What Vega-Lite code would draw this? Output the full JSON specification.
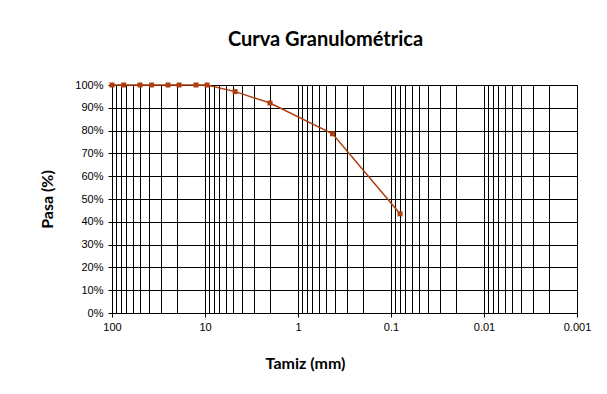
{
  "$schema": "https://vega.github.io/schema/vega-lite/v6.json",
  "autosize": "none",
  "width": 465,
  "height": 228,
  "padding": {"left": 112, "top": 85, "right": 30, "bottom": 81},
  "background": "white",
  "title": {
    "text": "Curva Granulométrica",
    "font": "Lato",
    "fontSize": 20,
    "fontWeight": "bold",
    "color": "black",
    "anchor": "middle",
    "offset": 13,
    "dx": -19,
    "baseline": "alphabetic"
  },
  "data": {
    "values": [
      {"tamiz": 100, "pasa": 1.0},
      {"tamiz": 75, "pasa": 1.0},
      {"tamiz": 50, "pasa": 1.0},
      {"tamiz": 37.5, "pasa": 1.0},
      {"tamiz": 25, "pasa": 1.0},
      {"tamiz": 19, "pasa": 1.0},
      {"tamiz": 12.5, "pasa": 1.0},
      {"tamiz": 9.5, "pasa": 1.0},
      {"tamiz": 4.75, "pasa": 0.971},
      {"tamiz": 2.0, "pasa": 0.921},
      {"tamiz": 0.425, "pasa": 0.786},
      {"tamiz": 0.08, "pasa": 0.435}
    ]
  },
  "encoding": {
    "x": {
      "field": "tamiz",
      "type": "quantitative",
      "title": "Tamiz (mm)",
      "scale": {"type": "log", "domain": [0.001, 100], "reverse": true, "nice": false},
      "axis": {
        "values": [0.001,0.002,0.003,0.004,0.005,0.006,0.007,0.008,0.009,0.01,0.02,0.03,0.04,0.05,0.06,0.07,0.08,0.09,0.1,0.2,0.3,0.4,0.5,0.6,0.7,0.8,0.9,1,2,3,4,5,6,7,8,9,10,20,30,40,50,60,70,80,90,100],
        "labelExpr": "abs(log(datum.value)/LN10 - round(log(datum.value)/LN10)) < 1e-6 ? toString(datum.value) : ''",
        "labelOverlap": false,
        "labelFlush": false,
        "labelFont": "Liberation Sans",
        "labelFontSize": 11,
        "labelColor": "black",
        "labelPadding": 4,
        "tickSize": 4,
        "tickColor": "black",
        "tickOpacity": {"condition": {"test": "abs(log(datum.value)/LN10 - round(log(datum.value)/LN10)) < 1e-6", "value": 1}, "value": 0},
        "domainColor": "black",
        "grid": true,
        "gridColor": "black",
        "gridOpacity": 1,
        "gridWidth": 1,
        "titleFont": "Lato",
        "titleFontSize": 16,
        "titleFontWeight": "bold",
        "titleColor": "black",
        "titleX": 193,
        "titleY": 50,
        "titleAlign": "center",
        "titleBaseline": "middle"
      }
    },
    "y": {
      "field": "pasa",
      "type": "quantitative",
      "title": "Pasa (%)",
      "scale": {"domain": [0, 1], "nice": false},
      "axis": {
        "values": [0, 0.1, 0.2, 0.3, 0.4, 0.5, 0.6, 0.7, 0.8, 0.9, 1],
        "format": ".0%",
        "labelFont": "Liberation Sans",
        "labelFontSize": 11,
        "labelColor": "black",
        "labelPadding": 5,
        "tickSize": 4,
        "tickColor": "black",
        "domainColor": "black",
        "grid": true,
        "gridColor": "black",
        "gridOpacity": 1,
        "titleFont": "Lato",
        "titleFontSize": 16,
        "titleFontWeight": "bold",
        "titleColor": "black",
        "titleX": -65,
        "titleY": 114,
        "titleAlign": "center",
        "titleBaseline": "middle",
        "titleAngle": -90
      }
    }
  },
  "layer": [
    {"mark": {"type": "line", "color": "#B03E0C", "strokeWidth": 1.5}},
    {"mark": {"type": "point", "shape": "square", "filled": true, "size": 25, "color": "#B03E0C", "opacity": 1}}
  ],
  "config": {
    "view": {"stroke": "#808080"}
  }
}
